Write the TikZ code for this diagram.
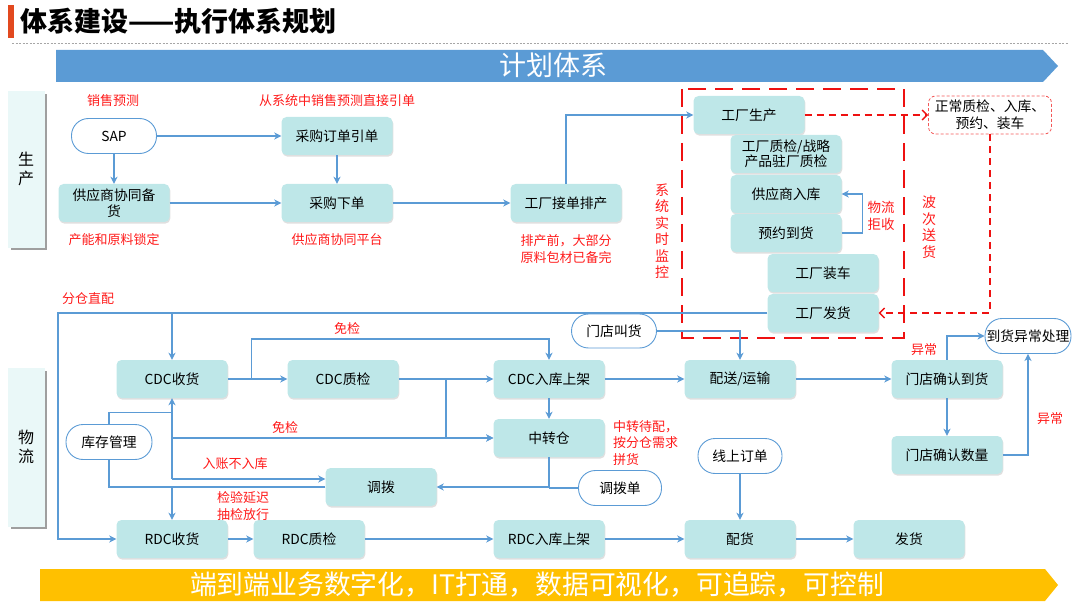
\documentclass[tikz,border=0pt]{standalone}
\usepackage{fontspec}
\setmainfont{Noto Sans CJK SC}
\usetikzlibrary{arrows.meta,shadows,calc}
\definecolor{lineblue}{HTML}{5B9BD5}
\definecolor{boxc}{HTML}{BEE7E8}
\definecolor{sidec}{HTML}{EAF8F8}
\definecolor{bannerblue}{HTML}{5B9BD5}
\definecolor{banneryel}{HTML}{FFC000}
\definecolor{titleor}{HTML}{E2491F}
\definecolor{lblred}{HTML}{FF1A1A}
\definecolor{dred}{HTML}{EE1111}
\tikzset{
  box/.style={fill=boxc, rounded corners=5pt, minimum width=111pt, minimum height=38pt,
    align=center, inner sep=2pt, font=\fontsize{13.8}{16}\selectfont,
    drop shadow={shadow xshift=0.8pt, shadow yshift=-1.6pt, opacity=0.25}},
  pill/.style={draw=lineblue, line width=0.9pt, fill=white, rounded corners=17pt,
    minimum width=85pt, minimum height=35pt, inner xsep=1pt, align=center,
    font=\fontsize{13.8}{16}\selectfont},
  lbl/.style={text=lblred, font=\fontsize{13}{16}\selectfont, align=center, inner sep=0pt},
  vlbl/.style={text=lblred, font=\fontsize{14}{16.5}\selectfont, align=center, inner sep=0pt},
  arr/.style={draw=lineblue, line width=1.3pt, -{Stealth[length=7pt,width=7pt,inset=2pt]}},
  ln/.style={draw=lineblue, line width=1.3pt},
  rarr/.style={draw=dred, line width=1.4pt, dash pattern=on 7pt off 5pt, -{Straight Barb[length=5pt,width=10pt]}},
}
\begin{document}
\begin{tikzpicture}[x=1pt,y=-1pt]
\useasboundingbox (0,0) rectangle (1080,607);
% title
\fill[titleor] (8,5) rectangle (14,38);
\node[anchor=west, inner sep=0pt, font=\fontsize{27}{30}\bfseries\selectfont] (title) at (20,21) {体系建设——执行体系规划};
\draw[gray!70, line width=1pt, dash pattern=on 2pt off 1.5pt] (12,44) -- (1068,44);
% banners
\fill[bannerblue] (56,50) -- (1043,50) -- (1058,66) -- (1043,82) -- (56,82) -- cycle;
\node[text=white, font=\fontsize{27}{30}\selectfont, inner sep=0pt] (plan) at (553,65) {计划体系};
\fill[banneryel] (40,569) -- (1045,569) -- (1058,585) -- (1045,601) -- (40,601) -- cycle;
\node[text=white, font=\fontsize{26.8}{30}\selectfont, inner sep=0pt] (bottomtxt) at (537,585) {端到端业务数字化，IT打通，数据可视化，可追踪，可控制};
% side boxes
\fill[gray!75] (11,94) rectangle (47,250);
\fill[sidec] (8,91) rectangle (45,248);
\node[font=\fontsize{16}{19}\selectfont, align=center, inner sep=0pt] (sc1) at (26,169) {生\\产};
\fill[gray!75] (11,371) rectangle (47,529);
\fill[sidec] (8,368) rectangle (45,527);
\node[font=\fontsize{16}{19}\selectfont, align=center, inner sep=0pt] (sc2) at (26,447) {物\\流};

% ---------- production ----------
\node[pill] (sap) at (114,136) {SAP};
\node[lbl] (l1) at (113,101) {销售预测};
\node[box] (xt) at (114,203) {供应商协同备\\货};
\node[lbl] (l2) at (114,240) {产能和原料锁定};
\node[box] (po) at (337,136) {采购订单引单};
\node[lbl] (l3) at (337,101) {从系统中销售预测直接引单};
\node[box] (xd) at (337,203) {采购下单};
\node[lbl] (l4) at (337,240) {供应商协同平台};
\node[box] (jd) at (566,203) {工厂接单排产};
\node[lbl, font=\fontsize{13}{17}\selectfont] (l5) at (566,249) {排产前，大部分\\原料包材已备完};

% red dashed frame
\draw[dred, line width=2.6pt, dash pattern=on 18pt off 9pt] (682,89) rectangle (904,338);
\node[box] (sc) at (749,115) {工厂生产};
\node[box, font=\fontsize{13.8}{15.5}\selectfont] (zj) at (786,154) {工厂质检/战略\\产品驻厂质检};
\node[box] (rk) at (786,194) {供应商入库};
\node[box] (yy) at (786,233) {预约到货};
\node[box] (zc) at (823,273) {工厂装车};
\node[box] (fh) at (823,313) {工厂发货};
\node[lbl, font=\fontsize{13.5}{16.5}\selectfont] (l6) at (881,216) {物流\\拒收};
\node[vlbl] (l7) at (662,231) {系\\统\\实\\时\\监\\控};
\node[vlbl] (l8) at (929,227) {波\\次\\送\\货};
\node[draw=dred!70, dash pattern=on 3pt off 2pt, line width=0.8pt, rounded corners=7pt,
  minimum width=123pt, minimum height=38pt, align=center, inner sep=1pt,
  font=\fontsize{13.8}{17}\selectfont] (zcz) at (990,115) {正常质检、入库、\\预约、装车};

% production connectors
\draw[arr] (sap.south) -- (xt.north);
\draw[arr] (sap.east) -- (po.west);
\draw[arr] (po.south) -- (xd.north);
\draw[arr] (xt.east) -- (xd.west);
\draw[arr] (xd.east) -- (jd.west);
\draw[arr] (jd.north) |- (sc.west);
\draw[arr] (yy.east) -- ++(21,0) |- (rk.east);
\draw[rarr] (sc.east) -- (zcz.west);
\draw[rarr] (zcz.south) |- (fh.east);

% ---------- logistics ----------
\node[lbl] (l9) at (88,299) {分仓直配};
\node[box] (cdcsh) at (172,379) {CDC收货};
\node[box] (cdczj) at (343,379) {CDC质检};
\node[box] (cdcrk) at (549,379) {CDC入库上架};
\node[box] (ps) at (740,379) {配送/运输};
\node[box] (mq) at (947,379) {门店确认到货};
\node[pill, minimum width=86pt] (yc) at (1028,336) {到货异常处理};
\node[box] (ms) at (947,455) {门店确认数量};
\node[pill, minimum height=34pt] (mdj) at (614,331) {门店叫货};
\node[box] (zzc) at (549,438) {中转仓};
\node[lbl, anchor=west, align=left, font=\fontsize{13}{16.5}\selectfont] (l10) at (613,443) {中转待配，\\按分仓需求\\拼货};
\node[pill, minimum width=86pt] (kc) at (109,442) {库存管理};
\node[box] (db) at (381,487) {调拨};
\node[pill, minimum width=83pt] (dbd) at (620,488) {调拨单};
\node[pill, minimum width=84pt] (xs) at (740,456) {线上订单};
\node[box] (rsh) at (172,539) {RDC收货};
\node[box] (rzj) at (309,539) {RDC质检};
\node[box] (rrk) at (549,539) {RDC入库上架};
\node[box] (ph) at (740,539) {配货};
\node[box] (fhh) at (909,539) {发货};
\node[lbl] (l11) at (347,329) {免检};
\node[lbl] (l12) at (285,428) {免检};
\node[lbl] (l13) at (235,464) {入账不入库};
\node[lbl, font=\fontsize{13}{17}\selectfont] (l14) at (243,506) {检验延迟\\抽检放行};
\node[lbl] (l15) at (924,350) {异常};
\node[lbl] (l16) at (1050,419) {异常};

% logistics connectors
\coordinate (lft) at (58,313);
\draw[arr] (fh.west) -- (lft) |- (rsh.west);
\draw[arr] (cdcsh.north |- fh.west) -- (cdcsh.north);
\draw[arr] (mdj.east) -| (ps.north);
\draw[arr] (cdcsh.east) -- (cdczj.west);
\draw[arr] ($(cdcsh.east)+(24,0)$) -- ++(0,-40) -| (cdcrk.north);
\draw[arr] (cdczj.east) -- (cdcrk.west);
\draw[arr] ($(cdczj.east)!0.5!(cdcrk.west)$) |- (zzc.west);
\draw[arr] (cdcsh.south |- zzc.west) -- (zzc.west);
\draw[arr] ($(cdcsh.south |- db.west)+(0,-8)$) -- (cdcsh.south);
\draw[arr] ($(cdcsh.south |- db.west)+(0,-8)$) -- ($(db.west)+(0,-8)$);
\draw[arr] (db.west) -| (rsh.north);
\draw[ln] (kc.north) |- ($(cdcsh.south)+(0,14)$);
\draw[ln] (kc.south) |- (rsh.north |- db.west);
\draw[arr] (cdcrk.south) -- (zzc.north);
\draw[arr] (zzc.south) |- (db.east);
\draw[ln] (dbd.west) -- (zzc.south |- dbd.west);
\draw[arr] (cdcrk.east) -- (ps.west);
\draw[arr] (ps.east) -- (mq.west);
\draw[arr] (mq.north) |- (yc.west);
\draw[arr] (mq.south) -- (ms.north);
\draw[arr] (ms.east) -| (yc.south);
\draw[arr] (xs.south) -- (ph.north);
\draw[arr] (rsh.east) -- (rzj.west);
\draw[arr] (rzj.east) -- (rrk.west);
\draw[arr] (rrk.east) -- (ph.west);
\draw[arr] (ph.east) -- (fhh.west);
\end{tikzpicture}
\end{document}
